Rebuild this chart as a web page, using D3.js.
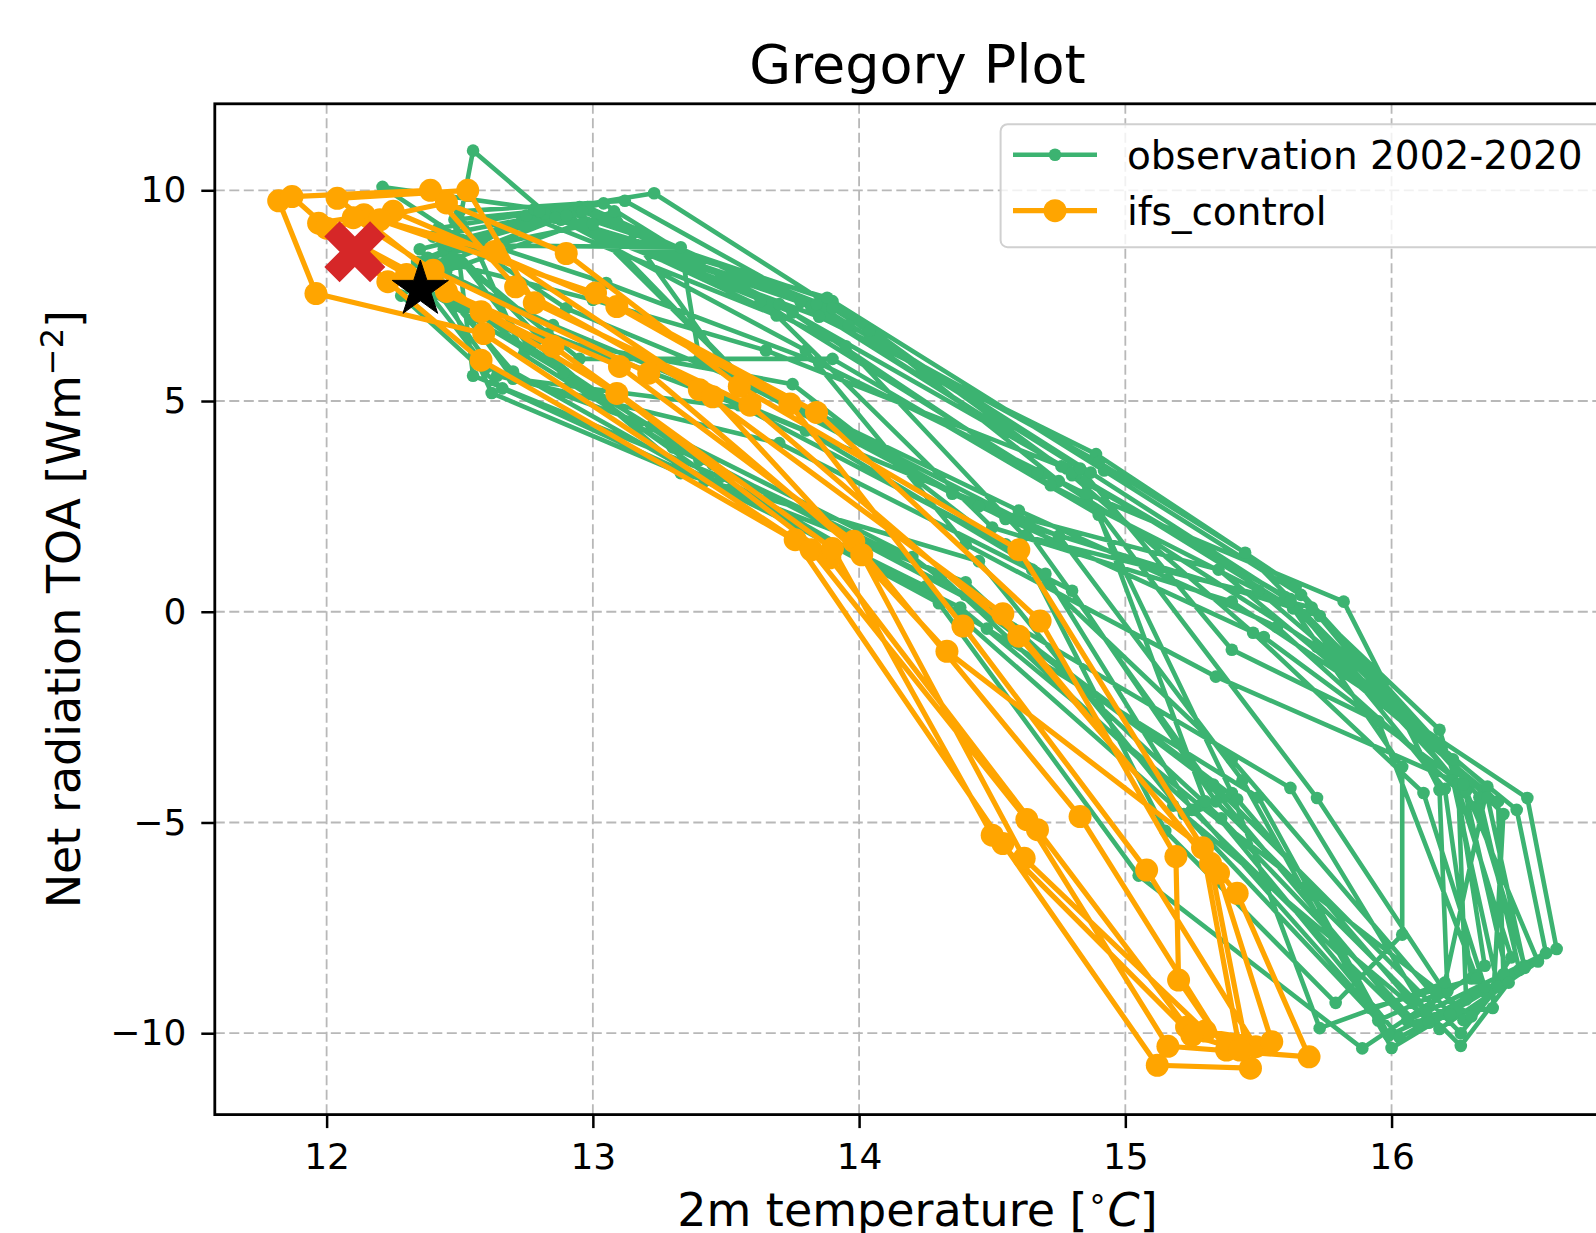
<!DOCTYPE html>
<html lang="en">
<head>
  <meta charset="UTF-8">
  <title>Gregory Plot</title>
  <script src="https://d3js.org/d3.v7.min.js"></script>
  <style>
    body {
      margin: 0;
      background: #fff;
      font-family: "DejaVu Sans", sans-serif;
    }
  </style>
</head>
<body>
  <div id="chart"></div>

  <script>
    const xTicks = [12, 13, 14, 15, 16];
    const yTicks = [-10, -5, 0, 5, 10];

    // observation 2002-2020, one row per year, Jan..Dec
    const obsTemp = [
      [12.40, 12.62, 13.33, 14.45, 15.22, 15.95, 16.30, 16.20, 15.62, 14.80, 13.90, 12.92],
      [12.21, 12.90, 13.70, 14.60, 15.32, 16.06, 16.35, 16.23, 15.64, 14.89, 13.85, 12.84],
      [12.55, 12.45, 13.51, 14.30, 15.05, 15.89, 16.21, 16.18, 15.82, 14.67, 13.63, 13.04],
      [12.35, 12.70, 13.60, 14.75, 15.44, 16.00, 16.62, 16.51, 15.40, 14.50, 13.69, 12.75],
      [12.30, 12.89, 13.45, 14.50, 15.62, 16.13, 16.58, 16.47, 15.72, 14.75, 14.04, 13.23],
      [12.42, 13.05, 13.85, 14.85, 15.72, 16.27, 16.50, 16.32, 15.57, 14.60, 13.55, 12.93],
      [12.33, 12.60, 13.22, 14.20, 15.33, 16.26, 16.40, 16.23, 15.34, 14.40, 13.80, 12.88],
      [12.45, 12.80, 13.75, 14.65, 15.15, 15.79, 16.04, 16.04, 15.63, 14.78, 13.75, 12.78],
      [12.28, 12.66, 13.42, 14.38, 15.28, 16.30, 16.45, 16.18, 15.73, 14.55, 13.60, 13.00],
      [12.38, 13.00, 13.65, 14.82, 15.40, 15.73, 16.20, 16.36, 15.50, 14.72, 13.70, 12.95],
      [12.48, 12.55, 13.48, 14.48, 15.50, 15.99, 16.28, 16.25, 15.66, 14.92, 13.88, 12.82],
      [12.36, 12.85, 13.80, 14.70, 15.25, 16.06, 16.42, 16.40, 15.35, 14.45, 13.50, 13.08],
      [12.32, 12.78, 13.35, 14.40, 15.36, 16.10, 16.35, 16.12, 15.48, 14.76, 13.82, 12.86],
      [12.44, 12.95, 13.90, 14.90, 15.30, 16.03, 16.48, 16.33, 15.70, 14.62, 13.95, 12.90],
      [12.37, 12.70, 13.32, 14.25, 15.18, 16.18, 16.55, 16.28, 15.60, 14.80, 13.78, 12.98],
      [12.40, 12.83, 13.55, 14.55, 15.40, 16.22, 16.38, 16.42, 15.45, 14.90, 13.96, 13.12],
      [12.50, 12.74, 13.30, 14.30, 15.26, 15.92, 16.32, 15.95, 15.40, 14.83, 13.84, 12.80],
      [12.34, 12.64, 13.70, 14.80, 15.34, 16.26, 16.44, 16.27, 15.52, 14.35, 13.40, 13.33],
      [12.46, 12.76, 13.40, 14.40, 15.42, 16.14, 16.50, 16.36, 15.62, 14.87, 13.90, 12.96]
    ];
    const obsNet = [
      [8.20, 5.19, 3.29, 1.20, -4.80, -9.70, -8.70, -4.20, 0.30, 3.24, 7.37, 9.45],
      [10.08, 7.20, 5.10, 2.20, -4.13, -9.70, -8.40, -3.50, 0.60, 3.74, 7.00, 9.37],
      [10.94, 7.60, 2.89, 0.20, -6.26, -10.36, -9.00, -4.23, 0.24, 3.29, 7.37, 9.69],
      [8.60, 5.53, 4.80, 1.80, -4.00, -10.35, -8.00, -4.42, 0.24, 2.00, 7.03, 9.40],
      [7.90, 5.67, 3.50, 0.00, -4.18, -9.50, -8.10, -4.70, -0.83, 3.10, 6.67, 9.93],
      [9.10, 7.80, 5.90, 2.80, -4.42, -9.69, -8.40, -4.63, -0.36, 2.40, 5.60, 9.50],
      [8.00, 5.80, 4.40, 1.30, -4.10, -10.00, -8.90, -4.00, -1.54, 1.60, 6.20, 9.30],
      [8.80, 6.50, 5.40, 1.00, -5.20, -9.28, -7.66, -3.68, 0.08, 3.40, 7.10, 9.55],
      [7.50, 5.30, 3.10, 0.10, -4.60, -9.60, -8.20, -2.80, -0.10, 2.20, 5.30, 9.20],
      [8.40, 7.40, 6.20, 3.30, -4.30, -9.88, -8.80, -4.15, 0.50, 3.00, 7.30, 9.60],
      [9.30, 5.60, 3.20, -0.40, -4.40, -10.05, -9.20, -4.08, 0.40, 3.35, 7.45, 9.45],
      [8.30, 6.80, 4.30, 0.90, -4.70, -9.70, -8.60, -4.50, 1.00, 2.50, 5.80, 9.50],
      [7.80, 6.40, 3.30, 0.70, -4.90, -9.80, -8.90, -4.30, -0.50, 3.45, 7.25, 9.35],
      [8.60, 6.00, 6.00, 2.30, -4.50, -10.10, -8.50, -4.40, 0.10, 1.80, 6.30, 9.40],
      [8.10, 5.70, 3.50, 0.60, -4.60, -9.90, -8.30, -4.25, 0.35, 3.30, 7.35, 9.60],
      [8.90, 6.60, 4.90, 1.60, -3.50, -9.55, -9.40, -4.80, 1.40, 3.55, 6.80, 9.75],
      [9.50, 6.10, 3.90, 0.90, -4.70, -9.40, -8.70, -2.60, -0.90, 3.40, 7.30, 9.50],
      [8.30, 5.60, 4.00, 0.50, -4.50, -10.30, -8.80, -4.10, -0.60, 2.80, 6.00, 8.65],
      [8.70, 6.30, 3.60, 0.40, -4.45, -9.75, -8.45, -4.40, 0.25, 3.30, 7.20, 9.50]
    ];

    // ifs_control, one row per year, Jan..Dec
    const ifsTemp = [
      [11.82, 11.96, 12.59, 13.76, 14.54, 15.12, 15.47, 15.32, 14.54, 13.40, 12.71, 12.39],
      [11.87, 12.23, 12.58, 13.82, 14.63, 15.16, 15.69, 15.42, 14.60, 13.59, 12.78, 12.53],
      [12.04, 12.58, 13.09, 13.89, 14.67, 15.23, 15.49, 15.08, 14.39, 13.74, 13.09, 12.25],
      [11.97, 12.45, 13.10, 13.98, 14.83, 15.38, 15.20, 15.19, 14.68, 13.84, 13.01, 12.14],
      [12.10, 12.40, 13.21, 14.01, 14.62, 15.30, 15.55, 15.35, 14.60, 13.55, 12.90, 12.45],
      [12.00, 12.30, 12.85, 13.90, 14.50, 15.25, 15.43, 15.29, 14.33, 13.45, 12.63, 12.20]
    ];
    const ifsNet = [
      [9.75, 7.55, 6.60, 1.71, -5.50, -10.76, -10.83, -5.97, -0.05, 5.27, 7.71, 10.00],
      [9.85, 7.83, 5.97, 1.47, -4.93, -10.31, -10.56, -6.68, -0.58, 4.90, 7.33, 10.00],
      [9.81, 7.12, 5.18, 1.28, -5.17, -9.85, -10.32, -6.13, -0.34, 4.93, 7.24, 9.50],
      [9.22, 7.60, 5.82, 1.67, -4.86, -10.40, -8.74, -5.81, -0.22, 4.73, 7.56, 9.42],
      [9.35, 8.10, 5.66, 1.35, -5.85, -9.95, -10.20, -6.20, 1.47, 5.35, 8.50, 9.70],
      [9.10, 8.00, 6.30, 1.50, -5.30, -10.05, -10.40, -5.60, -0.94, 5.10, 8.55, 9.30]
    ];

    const ifsMark = [12.106, 8.543];   // red X
    const obsMark = [12.352, 7.646];   // black star

    const W = 1596, H = 1233;
    const plot = {left: 214.8, right: 1620, top: 103.8, bottom: 1114.6};

    const svg = d3.select("#chart")
                  .append("svg")
                  .attr("width", W)
                  .attr("height", H)
                  .style("display", "block");

    const x = d3.scaleLinear()
                .domain([11.58, 16.858])
                .range([plot.left, plot.right]);

    const y = d3.scaleLinear()
                .domain([-11.931, 12.052])
                .range([plot.bottom, plot.top]);

    const toPoints = (temps, nets) => d3.merge(temps).map((t, i) => [t, d3.merge(nets)[i]]);
    const obsData = toPoints(obsTemp, obsNet);
    const ifsData = toPoints(ifsTemp, ifsNet);

    // grid
    const grid = svg.append("g")
                    .attr("stroke", "#b8b8b8")
                    .attr("stroke-width", 1.8)
                    .attr("stroke-dasharray", "10,4.5");
    grid.selectAll(".gx")
        .data(xTicks)
        .enter()
        .append("line")
        .attr("x1", d => x(d)).attr("x2", d => x(d))
        .attr("y1", plot.top).attr("y2", plot.bottom);
    grid.selectAll(".gy")
        .data(yTicks)
        .enter()
        .append("line")
        .attr("x1", plot.left).attr("x2", plot.right)
        .attr("y1", d => y(d)).attr("y2", d => y(d));

    const line = d3.line().x(d => x(d[0])).y(d => y(d[1]));

    // observation
    svg.append("path")
       .datum(obsData)
       .attr("d", line)
       .attr("fill", "none")
       .attr("stroke", "#3cb371")
       .attr("stroke-width", 4.6)
       .attr("stroke-linejoin", "round");
    svg.append("g")
       .selectAll("circle")
       .data(obsData)
       .enter()
       .append("circle")
       .attr("cx", d => x(d[0]))
       .attr("cy", d => y(d[1]))
       .attr("r", 6.3)
       .attr("fill", "#3cb371");

    // ifs_control
    svg.append("path")
       .datum(ifsData)
       .attr("d", line)
       .attr("fill", "none")
       .attr("stroke", "#ffa500")
       .attr("stroke-width", 5.2)
       .attr("stroke-linejoin", "round");
    svg.append("g")
       .selectAll("circle")
       .data(ifsData)
       .enter()
       .append("circle")
       .attr("cx", d => x(d[0]))
       .attr("cy", d => y(d[1]))
       .attr("r", 11.5)
       .attr("fill", "#ffa500");

    // filled X marker (matplotlib style)
    const xShape = [[-1,-2],[0,-1],[1,-2],[2,-1],[1,0],[2,1],[1,2],[0,1],[-1,2],[-2,1],[-1,0],[-2,-1]];
    const xSize = 61;
    svg.append("path")
       .attr("d", "M" + xShape.map(p => [p[0] * xSize / 4, p[1] * xSize / 4].join(",")).join("L") + "Z")
       .attr("transform", `translate(${x(ifsMark[0])},${y(ifsMark[1])})`)
       .attr("fill", "#d62728");

    svg.append("path")
       .attr("d", d3.symbol(d3.symbolStar, 977)())
       .attr("transform", `translate(${x(obsMark[0])},${y(obsMark[1])})`)
       .attr("fill", "#000")
       .attr("stroke", "#000")
       .attr("stroke-width", 1);

    // axes
    const xAxis = svg.append("g")
       .attr("transform", `translate(0,${plot.bottom})`)
       .call(d3.axisBottom(x).tickValues(xTicks).tickSize(13.5).tickPadding(15).tickSizeOuter(0).tickFormat(d3.format("d")));
    const yAxis = svg.append("g")
       .attr("transform", `translate(${plot.left},0)`)
       .call(d3.axisLeft(y).tickValues(yTicks).tickSize(13.5).tickPadding(15).tickSizeOuter(0).tickFormat(d3.format("d")));

    [xAxis, yAxis].forEach(g => {
      g.attr("font-family", "DejaVu Sans").attr("font-size", 36);
      g.select(".domain").remove();
      g.selectAll(".tick line").attr("stroke", "#000").attr("stroke-width", 2.5);
      g.selectAll(".tick text").attr("fill", "#000");
    });

    svg.append("rect")
       .attr("x", plot.left)
       .attr("y", plot.top)
       .attr("width", plot.right - plot.left)
       .attr("height", plot.bottom - plot.top)
       .attr("fill", "none")
       .attr("stroke", "#000")
       .attr("stroke-width", 2.8);

    // title and labels
    const midX = (plot.left + plot.right) / 2;
    svg.append("text")
       .attr("x", midX)
       .attr("y", 83)
       .attr("text-anchor", "middle")
       .style("font-size", "54px")
       .text("Gregory Plot");

    const xl = svg.append("text")
       .attr("x", midX)
       .attr("y", 1226)
       .attr("text-anchor", "middle")
       .style("font-size", "46px");
    xl.append("tspan").text("2m temperature [");
    xl.append("tspan").attr("dy", -17).style("font-size", "32px").text("∘");
    xl.append("tspan").attr("dy", 17).style("font-style", "italic").text("C");
    xl.append("tspan").text("]");

    const yl = svg.append("text")
       .attr("transform", `translate(80,${(plot.top + plot.bottom) / 2}) rotate(-90)`)
       .attr("text-anchor", "middle")
       .style("font-size", "46px");
    yl.append("tspan").text("Net radiation TOA [Wm");
    yl.append("tspan").attr("dy", -17).style("font-size", "32px").text("−2");
    yl.append("tspan").attr("dy", 17).text("]");

    // legend
    const legend = svg.append("g");
    legend.append("rect")
          .attr("x", 1000.6)
          .attr("y", 124.2)
          .attr("width", 640)
          .attr("height", 123)
          .attr("rx", 7)
          .attr("fill", "#fff")
          .attr("fill-opacity", 0.8)
          .attr("stroke", "#d0d0d0")
          .attr("stroke-width", 2);

    const legendItems = [
      {label: "observation 2002-2020", color: "#3cb371", r: 6.3, w: 4.6},
      {label: "ifs_control", color: "#ffa500", r: 11.5, w: 5.2}
    ];
    legendItems.forEach((d, i) => {
      const cy = 154.7 + i * 56;
      legend.append("line")
            .attr("x1", 1013).attr("x2", 1097)
            .attr("y1", cy).attr("y2", cy)
            .attr("stroke", d.color)
            .attr("stroke-width", d.w);
      legend.append("circle")
            .attr("cx", 1055).attr("cy", cy)
            .attr("r", d.r)
            .attr("fill", d.color);
      legend.append("text")
            .attr("x", 1127)
            .attr("y", cy + 14)
            .style("font-size", "39px")
            .text(d.label);
    });
  </script>
</body>
</html>
